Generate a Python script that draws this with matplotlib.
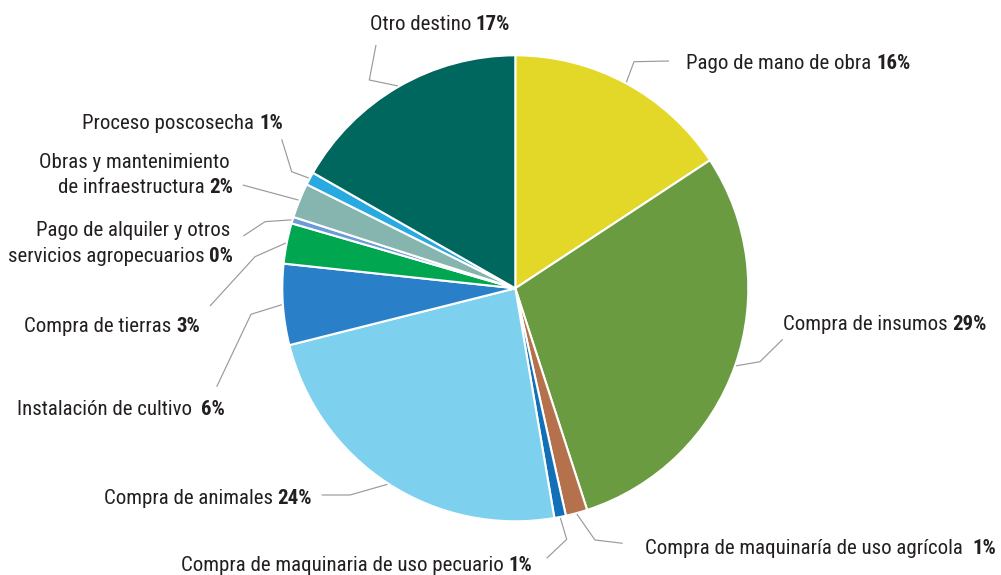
import matplotlib
matplotlib.use("Agg")
import matplotlib.pyplot as plt
from matplotlib import font_manager as fm
import numpy as np

# ---------------- data ----------------
categories = [
    "Pago de mano de obra",
    "Compra de insumos",
    "Compra de maquinaría de uso agrícola",
    "Compra de maquinaria de uso pecuario",
    "Compra de animales",
    "Instalación de cultivo",
    "Compra de tierras",
    "Pago de alquiler y otros servicios agropecuarios",
    "Obras y mantenimiento de infraestructura",
    "Proceso poscosecha",
    "Otro destino",
]
values = [15.7, 29.2, 1.5, 0.8, 23.7, 5.6, 2.8, 0.45, 2.4, 0.9, 16.7]
pct_labels = ["16%", "29%", "1%", "1%", "24%", "6%", "3%", "0%", "2%", "1%", "17%"]
colors = ["#E3D828", "#6A9B40", "#B5714B", "#1270B8", "#7DD1EE", "#2A80C8",
          "#00A650", "#6D9BD8", "#85B5AE", "#28AAE1", "#00675F"]

label_lines = [
    ["Pago de mano de obra "],
    ["Compra de insumos "],
    ["Compra de maquinaría de uso agrícola  "],
    ["Compra de maquinaria de uso pecuario "],
    ["Compra de animales "],
    ["Instalación de cultivo  "],
    ["Compra de tierras "],
    ["Pago de alquiler y otros", "servicios agropecuarios "],
    ["Obras y mantenimiento", "de infraestructura "],
    ["Proceso poscosecha "],
    ["Otro destino "],
]

# ---------------- layout (pixel coordinates) ----------------
W, H = 1001, 575
CX, CY, R = 515.3, 288.3, 233.0
text_pos = [
    (686, 69, "left"),
    (783, 330, "left"),
    (645, 554, "left"),
    (532, 571, "right"),
    (312, 504, "right"),
    (225, 415, "right"),
    (200, 332, "right"),
    (233, 262, "right"),
    (233, 193, "right"),
    (283, 129, "right"),
    (440, 30, "center"),
]
leader_pts = [
    [(634, 61.7), (669, 61)],
    [(760, 361.7), (782.7, 339.3)],
    [(595, 540), (622.7, 543.3)],
    [(566.7, 539.3), (546.7, 558.3)],
    [(350, 495), (321.7, 495)],
    [(251, 314.3), (216.7, 386.7)],
    [(255, 256.7), (210, 306)],
    [(265, 221.7), (243.3, 236)],
    [(242.7, 185)],
    [(291.7, 171.7), (281.7, 139.3)],
    [(369.3, 80), (376, 45)],
]

# pick a condensed face if one is installed
names = {f.name for f in fm.fontManager.ttflist}
cond = [n for n in ["Liberation Sans Narrow", "Roboto Condensed", "Arial Narrow",
                    "Open Sans Condensed", "Noto Sans Condensed", "DejaVu Sans Condensed"]
        if n in names]
FONT = cond[:1] + ["Liberation Sans", "DejaVu Sans"]
FS = 15 if cond else 13
TXT_COLOR = "#231F20"
LINE_COLOR = "#9A9A9A"
LINE_H = 25.5

fig = plt.figure(figsize=(W / 100, H / 100), dpi=100)
ax = fig.add_axes([0, 0, 1, 1])

wedges, _ = ax.pie(values, colors=colors, startangle=270, counterclock=True,
                   center=(CX, CY), radius=R,
                   wedgeprops=dict(edgecolor="white", linewidth=1.5))
ax.set_xlim(0, W)
ax.set_ylim(H, 0)
ax.set_aspect("auto")
ax.axis("off")

renderer = fig.canvas.get_renderer()

for i, w in enumerate(wedges):
    th = np.deg2rad((w.theta1 + w.theta2) / 2)
    sx, sy = CX + (R + 1) * np.cos(th), CY + (R + 1) * np.sin(th)
    xs = [sx] + [p[0] for p in leader_pts[i]]
    ys = [sy] + [p[1] for p in leader_pts[i]]
    ax.plot(xs, ys, color=LINE_COLOR, lw=0.85, solid_capstyle="butt", zorder=1)

    ax_x, base_y, ha = text_pos[i]
    lines = label_lines[i]
    t1 = ax.text(0, base_y, lines[-1], fontsize=FS, family=FONT, color=TXT_COLOR,
                 va="baseline", ha="left")
    t2 = ax.text(0, base_y, pct_labels[i], fontsize=FS, family=FONT, color=TXT_COLOR,
                 va="baseline", ha="left", fontweight="bold")
    w1 = t1.get_window_extent(renderer).width
    w2 = t2.get_window_extent(renderer).width
    total = w1 + w2
    if ha == "left":
        left = ax_x
    elif ha == "right":
        left = ax_x - total
    else:
        left = ax_x - total / 2
    t1.set_x(left)
    t2.set_x(left + w1)
    for k, ln in enumerate(lines[:-1][::-1]):
        yk = base_y - LINE_H * (k + 1)
        if ha == "right":
            ax.text(ax_x - 3, yk, ln, fontsize=FS, family=FONT, color=TXT_COLOR,
                    va="baseline", ha="right")
        else:
            ax.text(left, yk, ln, fontsize=FS, family=FONT, color=TXT_COLOR,
                    va="baseline", ha="left")

fig.savefig("out.png", dpi=100)
